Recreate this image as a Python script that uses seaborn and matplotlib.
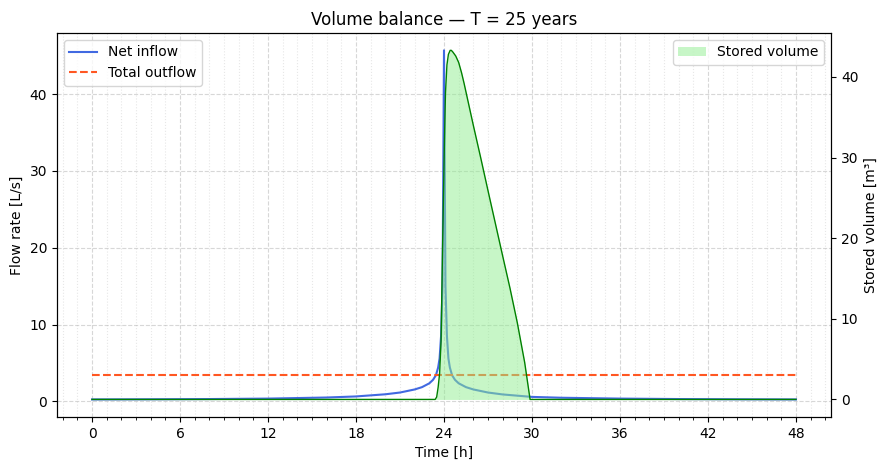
import numpy as np
import pandas as pd
import seaborn as sns
import matplotlib.pyplot as plt
from matplotlib.ticker import MultipleLocator

# net inflow hydrograph [L/s]
inflow_t = [0, 4, 8, 12, 16, 18, 20, 21, 22, 22.5, 23, 23.25, 23.45, 23.6, 23.7, 23.8, 23.9, 24.0,
            24.1, 24.2, 24.3, 24.4, 24.55, 24.75, 25, 25.5, 26, 27, 28, 30, 32, 36, 40, 44, 48]
inflow_q = [0.25, 0.27, 0.3, 0.36, 0.5, 0.64, 0.92, 1.15, 1.55, 1.85, 2.35, 2.8, 3.4, 4.4, 5.6, 8.5, 15, 45.7,
            15, 8.5, 5.6, 4.4, 3.4, 2.8, 2.35, 1.85, 1.55, 1.15, 0.9, 0.58, 0.47, 0.36, 0.3, 0.27, 0.25]

# constant total outflow [L/s]
outflow_q = 3.4

# stored volume [m3]
storage_t = [0, 23.4, 23.5, 23.6, 23.7, 23.8, 23.91, 24.03, 24.1, 24.2, 24.3, 24.42, 24.5, 24.6,
             24.8, 25.0, 25.2, 25.37, 26.0, 26.5, 27.0, 27.5, 28.0, 28.5, 29.0, 29.5, 29.87, 48]
storage_v = [0, 0, 0.3, 1.5, 3.2, 7.3, 19.7, 32, 38, 41.5, 42.8, 43.3, 43.3, 43.1,
             42.6, 41.8, 40.5, 39.2, 34.0, 30.0, 25.9, 21.85, 17.8, 13.8, 9.5, 4.6, 0, 0]

df_in = pd.DataFrame({'t': inflow_t, 'q': inflow_q})
df_in['out'] = outflow_q
df_st = pd.DataFrame({'t': storage_t, 'v': storage_v})

fig, ax1 = plt.subplots(figsize=(8.88, 4.70), dpi=100)
fig.subplots_adjust(left=0.064, right=0.936, top=0.93, bottom=0.113)

sns.lineplot(data=df_in, x='t', y='q', ax=ax1, color='royalblue', linewidth=1.5, label='Net inflow')
sns.lineplot(data=df_in, x='t', y='out', ax=ax1, color='#ff5722', linewidth=1.5,
             linestyle='--', label='Total outflow')

ax1.set_xlabel('Time [h]')
ax1.set_ylabel('Flow rate [L/s]')
ax1.set_title('Volume balance — T = 25 years')
ax1.xaxis.set_major_locator(MultipleLocator(6))
ax1.xaxis.set_minor_locator(MultipleLocator(1))
ax1.grid(True, which='major', linestyle='--', alpha=0.5)
ax1.grid(True, which='minor', axis='x', linestyle=':', alpha=0.3)
ax1.legend(loc='upper left')

ax2 = ax1.twinx()
ax2.fill_between(df_st['t'], df_st['v'], color='lightgreen', alpha=0.5, linewidth=0, label='Stored volume')
sns.lineplot(data=df_st, x='t', y='v', ax=ax2, color='green', linewidth=1)
ax2.set_ylabel('Stored volume [m³]')
ax2.legend(loc='upper right')

fig.savefig('out.png', dpi=100)
